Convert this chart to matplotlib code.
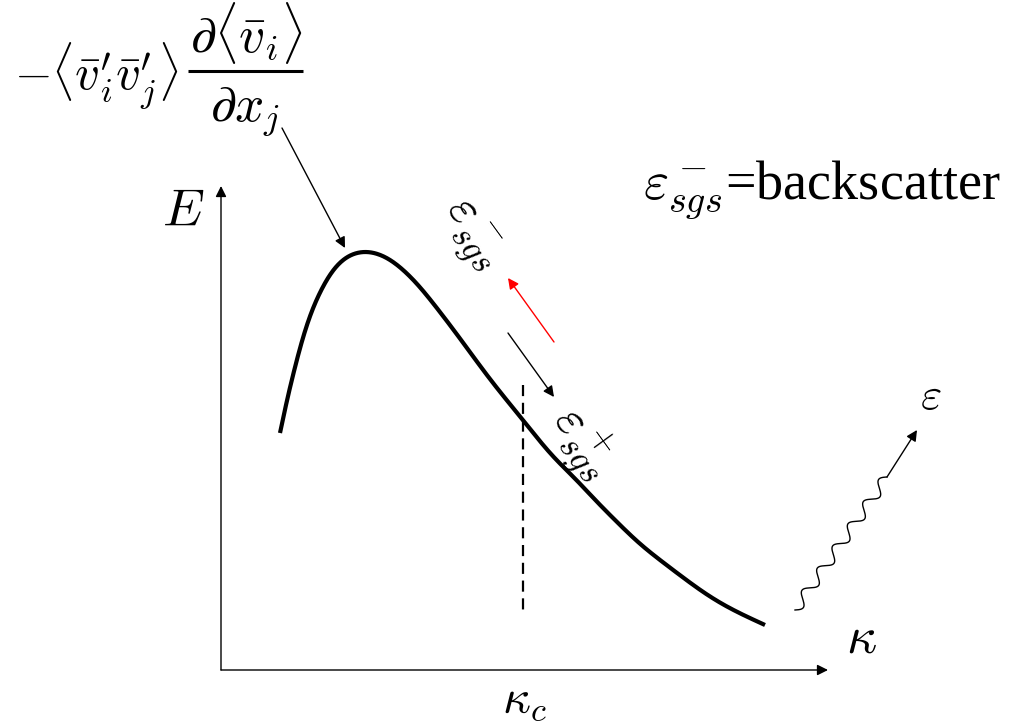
import numpy as np
import matplotlib
matplotlib.use("Agg")
import matplotlib.pyplot as plt

plt.rcParams['mathtext.fontset'] = 'cm'
plt.rcParams['font.family'] = ['Liberation Serif', 'DejaVu Serif']

# ---- data (pixel-space schematic coordinates) ----
curve_x = [280, 287, 295, 303, 313, 325, 337, 350, 362, 373, 390, 407, 417, 433,
           450, 467, 483, 500, 523, 553, 577, 593, 610, 627, 643, 660, 677, 693,
           710, 727, 743, 765]
curve_y = [433, 400, 367, 337, 307, 282, 263, 252, 249, 250, 258, 273, 283, 303,
           325, 348, 370, 392, 420, 457, 480, 498, 515, 532, 547, 560, 573, 585,
           597, 607, 615, 625]

axis_origin = (221, 670)
y_axis_tip = (221, 186)
x_axis_tip = (828, 670)

cutoff_x = 523
cutoff_y = [385, 611]

red_arrow = [(554, 342), (508, 278)]    # tail, head
black_arrow = [(508, 333), (554, 397)]  # tail, head
peak_arrow = [(282, 128), (345, 248)]

wave_start = (795, 610)
wave_end = (887, 477)
wave_arrow_tip = (917, 430)
wave_periods = 6
wave_amp = 5.5

formula_left = r"$-\langle\bar{v}_i^{\prime}\bar{v}_j^{\prime}\rangle$"
formula_num = r"$\partial\langle\bar{v}_i\rangle$"
formula_den = r"$\partial x_j$"

fig = plt.figure(figsize=(10.12, 7.26), dpi=100)
ax = fig.add_axes([0, 0, 1, 1])
ax.set_xlim(0, 1012)
ax.set_ylim(726, 0)
ax.axis('off')

arrow_kw = dict(arrowstyle='-|>', lw=1.0, mutation_scale=16, shrinkA=0, shrinkB=0)

# axes arrows
ax.annotate('', xy=y_axis_tip, xytext=axis_origin,
            arrowprops=dict(color='black', **arrow_kw))
ax.annotate('', xy=x_axis_tip, xytext=axis_origin,
            arrowprops=dict(color='black', **arrow_kw))

# spectrum curve (Catmull-Rom through points, lightly smoothed)
cx = np.array(curve_x, float)
cy = np.array(curve_y, float)
t = np.concatenate([[0], np.cumsum(np.hypot(np.diff(cx), np.diff(cy)))])
tt = np.linspace(0, t[-1], 800)

def catmull(p, t, tt):
    out = np.empty_like(tt)
    n = len(p)
    for k, s in enumerate(tt):
        i = min(np.searchsorted(t, s, side='right') - 1, n - 2)
        i0, i1, i2, i3 = max(i - 1, 0), i, i + 1, min(i + 2, n - 1)
        u = (s - t[i1]) / (t[i2] - t[i1])
        m1 = (p[i2] - p[i0]) / (t[i2] - t[i0]) * (t[i2] - t[i1])
        m2 = (p[i3] - p[i1]) / (t[i3] - t[i1]) * (t[i2] - t[i1])
        h00 = 2*u**3 - 3*u**2 + 1
        h10 = u**3 - 2*u**2 + u
        h01 = -2*u**3 + 3*u**2
        h11 = u**3 - u**2
        out[k] = h00*p[i1] + h10*m1 + h01*p[i2] + h11*m2
    return out

def smooth(v, sigma_pts=16):
    k = np.arange(-3*sigma_pts, 3*sigma_pts + 1)
    w = np.exp(-0.5*(k/sigma_pts)**2)
    w /= w.sum()
    pad = len(k)//2
    left = 2*v[0] - v[1:pad+1][::-1]
    right = 2*v[-1] - v[-pad-1:-1][::-1]
    vp = np.concatenate([left, v, right])
    return np.convolve(vp, w, mode='valid')

px = smooth(catmull(cx, t, tt))
py = smooth(catmull(cy, t, tt))
ax.plot(px, py, color='black', lw=3.0, solid_capstyle='butt')

# cutoff dashed line
ax.plot([cutoff_x, cutoff_x], cutoff_y, color='black', lw=1.6, dashes=(5, 3))

# transfer arrows
ax.annotate('', xy=red_arrow[1], xytext=red_arrow[0],
            arrowprops=dict(color='red', **arrow_kw))
ax.annotate('', xy=black_arrow[1], xytext=black_arrow[0],
            arrowprops=dict(color='black', **arrow_kw))
ax.annotate('', xy=peak_arrow[1], xytext=peak_arrow[0],
            arrowprops=dict(color='black', **arrow_kw))

# wavy dissipation line
ws = np.array(wave_start, float)
we = np.array(wave_end, float)
d = we - ws
L = np.hypot(*d)
dirv = d / L
perp = np.array([-dirv[1], dirv[0]])
s = np.linspace(0, 1, 500)
osc = wave_amp*np.sin(2*np.pi*wave_periods*s)
ax.plot(ws[0] + d[0]*s + osc*perp[0], ws[1] + d[1]*s + osc*perp[1],
        color='black', lw=1.0)
ax.annotate('', xy=wave_arrow_tip, xytext=wave_end,
            arrowprops=dict(color='black', **arrow_kw))

# formula (manual fraction for display-style spacing)
ax.text(96, 76, formula_left, fontsize=35, ha='center', va='center')
ax.text(246, 33, formula_num, fontsize=37, ha='center', va='center')
ax.plot([188, 303], [71, 71], color='black', lw=2.2, solid_capstyle='butt')
ax.text(245, 112, formula_den, fontsize=37, ha='center', va='center')

# labels
ax.text(183, 213, r"$E$", fontsize=38, ha='center', va='center')
ax.text(861, 640, r"$\kappa$", fontsize=38, ha='center', va='center')
ax.text(524, 701, r"$\kappa_c$", fontsize=35, ha='center', va='center')
ax.text(931, 398, r"$\varepsilon$", fontsize=33, ha='center', va='center')
ax.text(470, 235, r"$\varepsilon^-_{sgs}$", fontsize=36, ha='center',
        va='center', rotation=-54, rotation_mode='anchor')
ax.text(582, 443, r"$\varepsilon^+_{sgs}$", fontsize=36, ha='center',
        va='center', rotation=-54, rotation_mode='anchor')
ax.text(822, 190, r"$\varepsilon^-_{sgs}$=backscatter", fontsize=39,
        ha='center', va='center')

fig.savefig('out.png', dpi=100)
